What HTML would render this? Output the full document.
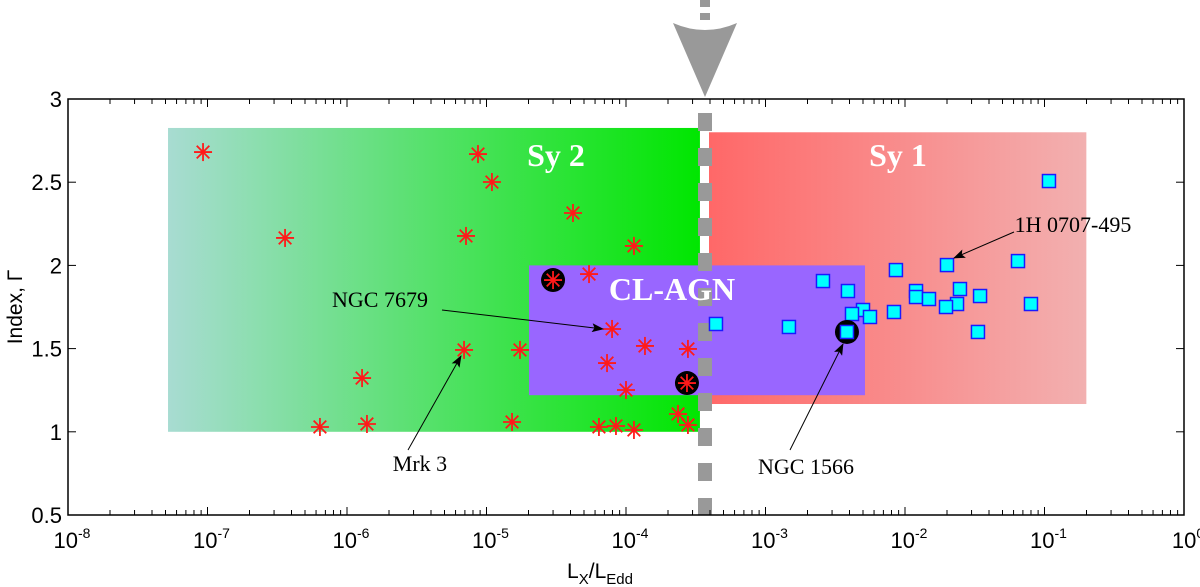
<!DOCTYPE html>
<html><head><meta charset="utf-8"><style>body{margin:0;background:#fff}svg{display:block}</style></head>
<body>
<svg id="chart" width="1200" height="587" viewBox="0 0 1200 587" font-family="Liberation Sans, sans-serif">
<defs>
<linearGradient id="gSy2" x1="0" x2="1" y1="0" y2="0"><stop offset="0" stop-color="#a8dcd2"/><stop offset="1" stop-color="#00e600"/></linearGradient>
<linearGradient id="gSy1" x1="0" x2="1" y1="0" y2="0"><stop offset="0" stop-color="#ff6868"/><stop offset="1" stop-color="#f2b0b0"/></linearGradient>
<marker id="ah" markerWidth="12" markerHeight="9" refX="11" refY="4.5" orient="auto" markerUnits="userSpaceOnUse" viewBox="0 0 12 9"><path d="M0,0 L12,4.5 L0,9 L2.5,4.5 Z" fill="#000"/></marker>
</defs>
<g id="regions"></g>
<g id="axes"></g>
<g id="marks"></g>
<g id="labels"></g>
</svg>
<script>
const sy2LogX = [-7.032,-6.444,-6.194,-5.892,-5.857,-5.161,-5.147,-5.061,-4.961,-4.817,-4.760,-4.523,-4.265,-4.380,-4.100,-3.864,-3.556,-4.136,-4.000,-3.563,-3.627,-3.556,-4.194,-4.072,-3.943,-3.943];
const sy2Gamma = [2.681,2.165,1.029,1.323,1.047,1.492,2.177,2.669,2.501,1.059,1.492,1.912,1.948,2.315,1.618,1.516,1.498,1.413,1.251,1.293,1.107,1.041,1.029,1.035,1.011,2.117];
const sy2Highlight = [11,19];
const sy1LogX = [-0.968,-1.699,-1.19,-2.065,-2.588,-2.409,-1.921,-1.921,-1.828,-1.606,-1.462,-1.627,-1.706,-1.097,-2.079,-2.301,-2.380,-2.251,-2.832,-3.355,-1.477,-2.416];
const sy1Gamma = [2.507,2.002,2.026,1.972,1.906,1.846,1.846,1.810,1.798,1.858,1.816,1.768,1.750,1.768,1.720,1.732,1.708,1.690,1.630,1.648,1.600,1.600];
const sy1Highlight = [21];
const xTickExps = [-8,-7,-6,-5,-4,-3,-2,-1,0];
const yTicks = [0.5,1,1.5,2,2.5,3];
const yTickLabels = ["0.5","1","1.5","2","2.5","3"];

const L=68,R=1184,T=99,B=515;
const X = lg => L + (lg+8)*(R-L)/8;
const Y = v => B - (v-0.5)*(B-T)/2.5;
const NS="http://www.w3.org/2000/svg";
function mk(tag, attrs, parent){const e=document.createElementNS(NS,tag);for(const k in attrs)e.setAttribute(k,attrs[k]);parent.appendChild(e);return e;}
const gR=document.getElementById('regions'),gA=document.getElementById('axes'),gM=document.getElementById('marks'),gL=document.getElementById('labels');

let r=mk('rect',{x:X(-7.283),y:Y(2.826),width:X(-3.47)-X(-7.283),height:Y(1.0)-Y(2.826),fill:'url(#gSy2)'},gR);

r=mk('rect',{x:X(-3.405),y:Y(2.80),width:X(-0.70)-X(-3.405),height:Y(1.167)-Y(2.80),fill:'url(#gSy1)'},gR);

r=mk('rect',{x:X(-4.695),y:Y(2.0),width:X(-2.287)-X(-4.695),height:Y(1.22)-Y(2.0),fill:'#9966ff'},gR);


const dx=705;
for(let y=113;y<B;y+=35){const d=mk('rect',{x:dx-7,y:y,width:14,height:Math.min(18,B-y),fill:'#999'},gR);
}
for(const y of [0,13]){const d=mk('rect',{x:dx-5,y:y,width:10,height:7,fill:'#999'},gR);
}
const arr=mk('path',{d:`M673,23 Q${dx},37 737,23 L${dx},97 Z`,fill:'#999'},gR);


const box=mk('rect',{x:L,y:T,width:R-L,height:B-T,fill:'none',stroke:'#000','stroke-width':1.5},gA);

xTickExps.forEach((e,i)=>{
  const x=X(e);
  mk('line',{x1:x,x2:x,y1:B,y2:B-8,stroke:'#000'},gA);mk('line',{x1:x,x2:x,y1:T,y2:T+8,stroke:'#000'},gA);
  if(e<0){for(let m=2;m<10;m++){const xm=X(e+Math.log10(m));mk('line',{x1:xm,x2:xm,y1:B,y2:B-5,stroke:'#000'},gA);mk('line',{x1:xm,x2:xm,y1:T,y2:T+5,stroke:'#000'},gA);}}
  const t=mk('text',{x:x+4,y:548,'text-anchor':'middle','font-size':22,fill:'#000'},gA);
  
  t.innerHTML='10<tspan dy="-10" font-size="14">'+e+'</tspan>';
});
yTicks.forEach((v,i)=>{
  const y=Y(v);
  mk('line',{x1:L,x2:L+8,y1:y,y2:y,stroke:'#000'},gA);mk('line',{x1:R,x2:R-8,y1:y,y2:y,stroke:'#000'},gA);
  const t=mk('text',{x:L-6,y:y+8,'text-anchor':'end','font-size':22,fill:'#000'},gA);
  
  t.textContent=yTickLabels[i];
});
let t=mk('text',{x:600,y:578,'text-anchor':'middle','font-size':21},gA);

t.innerHTML='L<tspan dy="6" font-size="15">X</tspan><tspan dy="-6">/L</tspan><tspan dy="6" font-size="15">Edd</tspan>';
t=mk('text',{x:0,y:0,'text-anchor':'middle','font-size':21,transform:'translate(22,307) rotate(-90)'},gA);

t.textContent='Index, Γ';

sy2LogX.forEach((lx,i)=>{
  const cx=X(lx),cy=Y(sy2Gamma[i]);
  if(sy2Highlight.includes(i)){const c=mk('circle',{cx:cx,cy:cy,r:12,fill:'#000'},gM);}
  const g=mk('g',{stroke:'#ff1a1a','stroke-width':1.8},gM);
  
  
  const s=9;
  mk('line',{x1:cx-s,x2:cx+s,y1:cy,y2:cy},g);mk('line',{x1:cx,x2:cx,y1:cy-s,y2:cy+s},g);
  mk('line',{x1:cx-s*0.7,x2:cx+s*0.7,y1:cy-s*0.7,y2:cy+s*0.7},g);mk('line',{x1:cx-s*0.7,x2:cx+s*0.7,y1:cy+s*0.7,y2:cy-s*0.7},g);
});
sy1LogX.forEach((lx,i)=>{
  const cx=X(lx),cy=Y(sy1Gamma[i]);
  if(sy1Highlight.includes(i)){const c=mk('circle',{cx:cx,cy:cy,r:12,fill:'#000'},gM);}
  const q=mk('rect',{x:cx-6.5,y:cy-6.5,width:13,height:13,fill:'#00ffff',stroke:'#1a1aff','stroke-width':1.5},gM);
  
  
});

function lab(txt,x,y,name,size){const e=mk('text',{x:x,y:y,'text-anchor':'middle','font-size':size,'font-weight':'bold','font-family':'Liberation Serif, serif',fill:'#fff'},gL);e.textContent=txt;}
lab('Sy 2',556,166,'sy2-label',32);lab('Sy 1',898,166,'sy1-label',32);lab('CL-AGN',672,300,'cl-agn-label',32);
function ann(txt,tx,ty,x1,y1,x2,y2,name){
  const l=mk('line',{x1:x1,y1:y1,x2:x2,y2:y2,stroke:'#000','stroke-width':1,'marker-end':'url(#ah)'},gL);
  
  const e=mk('text',{x:tx,y:ty,'text-anchor':'middle','font-size':22,'font-family':'Liberation Serif, serif',fill:'#000'},gL);
  e.textContent=txt;}
ann('NGC 7679',380,307,442,310,603,329,'ngc7679');
ann('Mrk 3',420,471,408,450,461,356,'mrk3');
ann('NGC 1566',806,474,790,450,843,344,'ngc1566');
ann('1H 0707-495',1073,232,1014,232,954,258,'1h0707');
</script>
</body></html>
